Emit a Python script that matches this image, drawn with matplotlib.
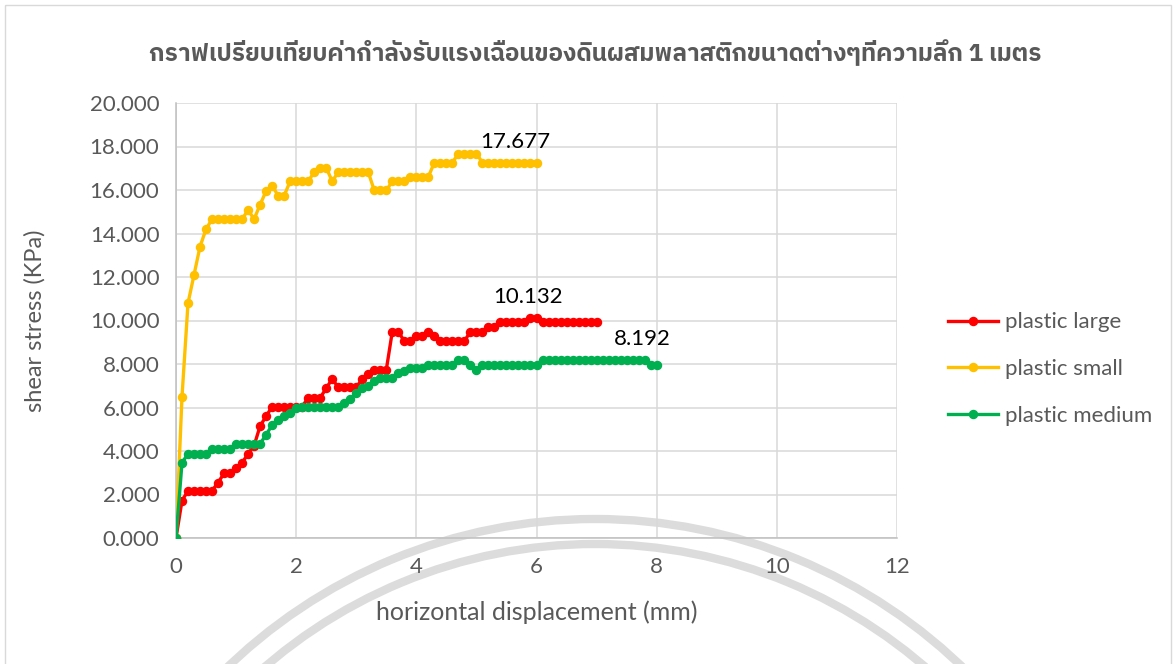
import matplotlib
matplotlib.use("Agg")
import matplotlib.pyplot as plt
from matplotlib import font_manager, ft2font
from matplotlib.patches import Arc, Rectangle
import numpy as np

# shear stress readings (kPa), one reading every 0.1 mm of displacement
step_mm = 0.1

plastic_large = [0.0, 1.72, 2.17, 2.17, 2.17, 2.17, 2.17, 2.55, 2.97, 2.97,
                 3.22, 3.46, 3.87, 4.25, 5.15, 5.60, 6.04, 6.04, 6.04, 6.04,
                 6.04, 6.04, 6.45, 6.45, 6.45, 6.88, 7.32, 6.92, 6.92, 6.92,
                 6.92, 7.32, 7.52, 7.73, 7.73, 7.73, 9.49, 9.49, 9.05, 9.05,
                 9.27, 9.27, 9.49, 9.27, 9.05, 9.05, 9.05, 9.05, 9.05, 9.49,
                 9.49, 9.49, 9.71, 9.71, 9.92, 9.92, 9.92, 9.92, 9.92, 10.132,
                 10.132, 9.92, 9.92, 9.92, 9.92, 9.92, 9.92, 9.92, 9.92, 9.92,
                 9.92]

plastic_small = [0.0, 6.50, 10.80, 12.10, 13.40, 14.20, 14.66, 14.66, 14.66, 14.66,
                 14.66, 14.66, 15.08, 14.66, 15.33, 15.95, 16.20, 15.74, 15.74, 16.40,
                 16.40, 16.40, 16.40, 16.82, 17.03, 17.03, 16.40, 16.82, 16.82, 16.82,
                 16.82, 16.82, 16.82, 15.98, 15.98, 15.98, 16.40, 16.40, 16.40, 16.61,
                 16.61, 16.61, 16.61, 17.26, 17.26, 17.26, 17.26, 17.677, 17.677, 17.677,
                 17.677, 17.26, 17.26, 17.26, 17.26, 17.26, 17.26, 17.26, 17.26, 17.26,
                 17.26]

plastic_medium = [0.0, 3.46, 3.87, 3.87, 3.87, 3.87, 4.10, 4.10, 4.10, 4.10,
                  4.33, 4.33, 4.33, 4.33, 4.33, 4.75, 5.19, 5.42, 5.60, 5.74,
                  5.97, 6.03, 6.03, 6.03, 6.03, 6.03, 6.03, 6.03, 6.20, 6.40,
                  6.66, 6.89, 6.97, 7.20, 7.35, 7.35, 7.35, 7.58, 7.66, 7.80,
                  7.80, 7.80, 7.97, 7.97, 7.97, 7.97, 7.97, 8.192, 8.192, 7.97,
                  7.74, 7.97, 7.97, 7.97, 7.97, 7.97, 7.97, 7.97, 7.97, 7.97,
                  7.97, 8.192, 8.192, 8.192, 8.192, 8.192, 8.192, 8.192, 8.192, 8.192,
                  8.192, 8.192, 8.192, 8.192, 8.192, 8.192, 8.192, 8.192, 8.192, 7.97,
                  7.97]

series_names = ["plastic large", "plastic small", "plastic medium"]
series_values = [plastic_large, plastic_small, plastic_medium]
series_colors = ["#FF0000", "#FFC000", "#00B050"]

peak_labels = ["10.132", "17.677", "8.192"]

title = "กราฟเปรียบเทียบค่ากำลังรับแรงเฉือนของดินผสมพลาสติกขนาดต่างๆที่ความลึก 1 เมตร"
x_label = "horizontal displacement (mm)"
y_label = "shear stress (KPa)"


def find_thai_font():
    # look for any installed family that actually has Thai glyphs
    found = None
    for f in font_manager.fontManager.ttflist:
        try:
            cmap = ft2font.FT2Font(f.fname).get_charmap()
        except Exception:
            continue
        if 0x0E01 in cmap and 0x0E40 in cmap:
            if "thai" in f.name.lower():
                return f.name
            if found is None:
                found = f.name
    return found


latin_font = "Lato"
thai_font = find_thai_font()
title_family = [thai_font, latin_font, "DejaVu Sans"] if thai_font else [latin_font, "DejaVu Sans"]

plt.rcParams["font.family"] = [latin_font, "DejaVu Sans"]
text_grey = "#595959"
grid_grey = "#D9D9D9"

fig = plt.figure(figsize=(11.76, 6.64), dpi=100)

# background layer in pixel units: chart border and the faint watermark rings
bg = fig.add_axes([0, 0, 1, 1], zorder=0)
bg.set_xlim(0, 1176)
bg.set_ylim(664, 0)
bg.axis("off")
bg.add_patch(Rectangle((5, 5), 1166, 700, fill=False, edgecolor=grid_grey, linewidth=1))
for r in (530, 505):
    bg.add_patch(Arc((595, 1049), 2 * r, 2 * r, color="#DCDCDC", linewidth=6))

ax = fig.add_axes([176 / 1176, 1 - 538 / 664, 721 / 1176, 435 / 664], zorder=1)
ax.patch.set_alpha(0)

for name, vals, color in zip(series_names, series_values, series_colors):
    x = np.arange(len(vals)) * step_mm
    ax.plot(x, vals, color=color, linewidth=2.4, marker="o", markersize=5.8,
            label=name, zorder=3)

# data labels sit just above the point they belong to
label_points = [(5.9, 10.132), (5.7, 17.26), (7.8, 8.192)]
for txt, (px, py) in zip(peak_labels, label_points):
    ax.annotate(txt, xy=(px, py), xytext=(-2, 7.5), textcoords="offset points",
                ha="center", va="bottom", fontsize=16, color="#000000")

ax.set_xlim(0, 12)
ax.set_ylim(0, 20)
ax.set_xticks(np.arange(0, 13, 2))
ax.set_yticks(np.arange(0, 21, 2))
ax.yaxis.set_major_formatter(matplotlib.ticker.FormatStrFormatter("%.3f"))
ax.grid(True, color=grid_grey, linewidth=1.1, zorder=0)
ax.set_axisbelow(True)
for side in ("top", "right"):
    ax.spines[side].set_visible(False)
for side in ("left", "bottom"):
    ax.spines[side].set_color("#BFBFBF")
    ax.spines[side].set_linewidth(1.1)
ax.tick_params(length=0, labelsize=16, colors=text_grey)
ax.tick_params(axis="x", pad=14)
ax.tick_params(axis="y", pad=12)

ax.set_xlabel(x_label, fontsize=18, color=text_grey, va="center")
ax.xaxis.set_label_coords(0.5, (538 - 612) / 435)
ax.set_ylabel(y_label, fontsize=17, color=text_grey, va="center")
ax.yaxis.set_label_coords((35 - 176) / 721, 0.5)

fig.text(595 / 1176, 1 - 53 / 664, title, ha="center", va="center",
         fontsize=17.5, fontweight="bold", color=text_grey, family=title_family)

leg = fig.legend(loc="center left", bbox_to_anchor=(948 / 1176, 1 - 369 / 664),
                 frameon=False, fontsize=16, handlelength=2.25, labelspacing=1.2,
                 handletextpad=0.3, borderpad=0, borderaxespad=0)
for t in leg.get_texts():
    t.set_color(text_grey)

fig.savefig("out.png", dpi=100)
